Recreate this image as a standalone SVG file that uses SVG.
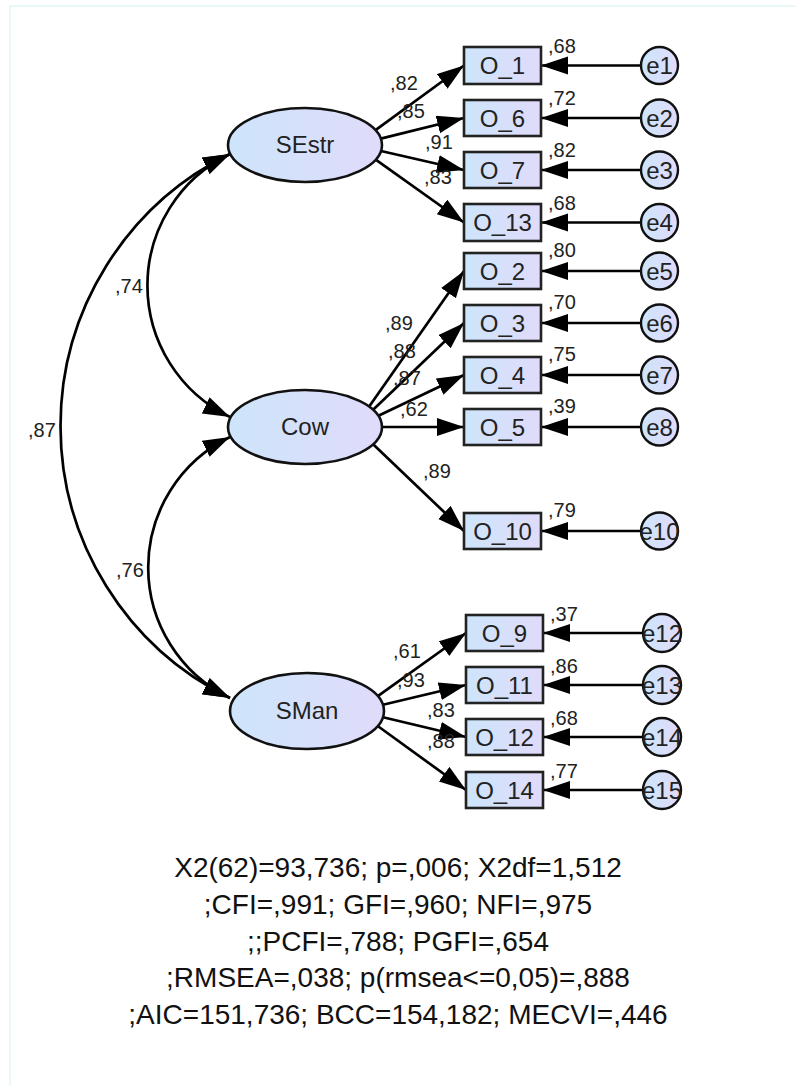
<svg xmlns="http://www.w3.org/2000/svg" width="796" height="1086" viewBox="0 0 796 1086">
<defs>
<linearGradient id="gf" x1="0" y1="0" x2="1" y2="0">
<stop offset="0" stop-color="#cde5fb"/>
<stop offset="1" stop-color="#e0dbfa"/>
</linearGradient>
<marker id="ah" markerUnits="userSpaceOnUse" markerWidth="30" markerHeight="20" refX="27" refY="9" orient="auto-start-reverse">
<path d="M0,0 L27,9 L0,18 z" fill="#000"/>
</marker>
<style>
.lat{fill:url(#gf);stroke:#111;stroke-width:2.6}
.obs{fill:url(#gf);stroke:#222;stroke-width:2.6}
.err{fill:url(#gf);stroke:#111;stroke-width:2.4}
.t{font-family:"Liberation Sans",Arial,sans-serif;fill:#222}
.n{font-size:24px;text-anchor:middle}
.l{font-size:20px}
.c{stroke:#000;stroke-width:2.7;fill:none;marker-end:url(#ah)}
.cc{stroke:#000;stroke-width:2.7;fill:none;marker-start:url(#ah);marker-end:url(#ah)}
.fit{font-family:"Liberation Sans",Arial,sans-serif;font-size:28px;fill:#111;text-anchor:middle}
</style>
</defs>
<rect x="0" y="0" width="796" height="1086" fill="#fff"/>
<path d="M10,1086 V6 H796" fill="none" stroke="#eaf8f8" stroke-width="2"/>

<g id="connectors">
<path class="cc" d="M230,154 A146,146 0 0 0 230,417"/>
<path class="cc" d="M230,437 A145,145 0 0 0 230,698"/>
<path class="cc" d="M230,154 A303,303 0 0 0 230,698"/>
<path class="c" d="M375.5,130.1 L464,65.5"/>
<path class="c" d="M380.8,138.6 L464,118"/>
<path class="c" d="M381,151 L464,170"/>
<path class="c" d="M375.7,159.7 L464,222.5"/>
<path class="c" d="M369.2,406.6 L464,271"/>
<path class="c" d="M373.1,409.7 L464,323"/>
<path class="c" d="M378.4,415.8 L464,375"/>
<path class="c" d="M382,427 L464,427"/>
<path class="c" d="M373.1,444.3 L464,531"/>
<path class="c" d="M377.8,696.1 L466,633"/>
<path class="c" d="M383,704.8 L466,685"/>
<path class="c" d="M383,717.2 L466,737"/>
<path class="c" d="M377.7,726 L466,790"/>
<path class="c" d="M641,65.5 L541,65.5"/>
<path class="c" d="M641,118 L541,118"/>
<path class="c" d="M641,170 L541,170"/>
<path class="c" d="M641,222.5 L541,222.5"/>
<path class="c" d="M641,271 L541,271"/>
<path class="c" d="M641,323 L541,323"/>
<path class="c" d="M641,375 L541,375"/>
<path class="c" d="M641,427 L541,427"/>
<path class="c" d="M641,531 L541,531"/>
<path class="c" d="M643,633 L543,633"/>
<path class="c" d="M643,685 L543,685"/>
<path class="c" d="M643,737 L543,737"/>
<path class="c" d="M643,790 L543,790"/>
</g>

<g id="labels" class="t l">
<text x="28" y="437">,87</text>
<text x="115" y="293">,74</text>
<text x="116" y="577">,76</text>
<text x="390" y="90">,82</text>
<text x="397" y="118">,85</text>
<text x="425" y="149">,91</text>
<text x="424" y="184">,83</text>
<text x="385" y="330">,89</text>
<text x="388" y="358">,88</text>
<text x="393" y="385">,87</text>
<text x="400" y="416">,62</text>
<text x="423" y="478">,89</text>
<text x="393" y="658">,61</text>
<text x="397" y="687">,93</text>
<text x="427" y="717">,83</text>
<text x="427" y="748">,88</text>
<text x="548" y="53">,68</text>
<text x="548" y="105">,72</text>
<text x="548" y="157">,82</text>
<text x="548" y="210">,68</text>
<text x="548" y="257">,80</text>
<text x="548" y="309">,70</text>
<text x="548" y="361">,75</text>
<text x="548" y="413">,39</text>
<text x="548" y="517">,79</text>
<text x="550" y="621">,37</text>
<text x="550" y="673">,86</text>
<text x="550" y="725">,68</text>
<text x="550" y="778">,77</text>
</g>

<g id="SEstr"><ellipse class="lat" cx="305" cy="145" rx="77" ry="37"/><text class="t n" x="305" y="153">SEstr</text></g>
<g id="Cow"><ellipse class="lat" cx="305" cy="427" rx="77" ry="37"/><text class="t n" x="305" y="435">Cow</text></g>
<g id="SMan"><ellipse class="lat" cx="307" cy="711" rx="77" ry="38"/><text class="t n" x="307" y="719">SMan</text></g>

<g id="O_1"><rect class="obs" x="464" y="47" width="77" height="37"/><text class="t n" x="502.5" y="74">O_1</text></g>
<g id="O_6"><rect class="obs" x="464" y="100" width="77" height="36"/><text class="t n" x="502.5" y="126.5">O_6</text></g>
<g id="O_7"><rect class="obs" x="464" y="152" width="77" height="36"/><text class="t n" x="502.5" y="178.5">O_7</text></g>
<g id="O_13"><rect class="obs" x="464" y="204" width="77" height="37"/><text class="t n" x="502.5" y="231">O_13</text></g>
<g id="O_2"><rect class="obs" x="464" y="253" width="77" height="36"/><text class="t n" x="502.5" y="279.5">O_2</text></g>
<g id="O_3"><rect class="obs" x="464" y="305" width="77" height="36"/><text class="t n" x="502.5" y="331.5">O_3</text></g>
<g id="O_4"><rect class="obs" x="464" y="357" width="77" height="36"/><text class="t n" x="502.5" y="383.5">O_4</text></g>
<g id="O_5"><rect class="obs" x="464" y="409" width="77" height="36"/><text class="t n" x="502.5" y="435.5">O_5</text></g>
<g id="O_10"><rect class="obs" x="464" y="513" width="77" height="36"/><text class="t n" x="502.5" y="539.5">O_10</text></g>
<g id="O_9"><rect class="obs" x="466" y="615" width="77" height="36"/><text class="t n" x="504.5" y="641.5">O_9</text></g>
<g id="O_11"><rect class="obs" x="466" y="667" width="77" height="36"/><text class="t n" x="504.5" y="693.5">O_11</text></g>
<g id="O_12"><rect class="obs" x="466" y="719" width="77" height="36"/><text class="t n" x="504.5" y="745.5">O_12</text></g>
<g id="O_14"><rect class="obs" x="466" y="772" width="77" height="36"/><text class="t n" x="504.5" y="798.5">O_14</text></g>

<g id="e1"><circle class="err" cx="659.5" cy="65.5" r="18.5"/><text class="t n" x="659.5" y="74">e1</text></g>
<g id="e2"><circle class="err" cx="659.5" cy="118" r="18.5"/><text class="t n" x="659.5" y="126.5">e2</text></g>
<g id="e3"><circle class="err" cx="659.5" cy="170" r="18.5"/><text class="t n" x="659.5" y="178.5">e3</text></g>
<g id="e4"><circle class="err" cx="659.5" cy="222.5" r="18.5"/><text class="t n" x="659.5" y="231">e4</text></g>
<g id="e5"><circle class="err" cx="659.5" cy="271" r="18.5"/><text class="t n" x="659.5" y="279.5">e5</text></g>
<g id="e6"><circle class="err" cx="659.5" cy="323" r="18.5"/><text class="t n" x="659.5" y="331.5">e6</text></g>
<g id="e7"><circle class="err" cx="659.5" cy="375" r="18.5"/><text class="t n" x="659.5" y="383.5">e7</text></g>
<g id="e8"><circle class="err" cx="659.5" cy="427" r="18.5"/><text class="t n" x="659.5" y="435.5">e8</text></g>
<g id="e10"><circle class="err" cx="659.5" cy="531" r="18.5"/><text class="t n" x="659.5" y="539.5">e10</text></g>
<g id="e12"><circle class="err" cx="662" cy="633" r="19"/><text class="t n" x="662" y="641.5">e12</text></g>
<g id="e13"><circle class="err" cx="662" cy="685" r="19"/><text class="t n" x="662" y="693.5">e13</text></g>
<g id="e14"><circle class="err" cx="662" cy="737" r="19"/><text class="t n" x="662" y="745.5">e14</text></g>
<g id="e15"><circle class="err" cx="662" cy="790" r="19"/><text class="t n" x="662" y="798.5">e15</text></g>

<g id="fit">
<text class="fit" x="398" y="877">X2(62)=93,736; p=,006; X2df=1,512</text>
<text class="fit" x="398" y="914">;CFI=,991; GFI=,960; NFI=,975</text>
<text class="fit" x="398" y="951">;;PCFI=,788; PGFI=,654</text>
<text class="fit" x="398" y="987">;RMSEA=,038; p(rmsea&lt;=0,05)=,888</text>
<text class="fit" x="398" y="1024">;AIC=151,736; BCC=154,182; MECVI=,446</text>
</g>
</svg>
